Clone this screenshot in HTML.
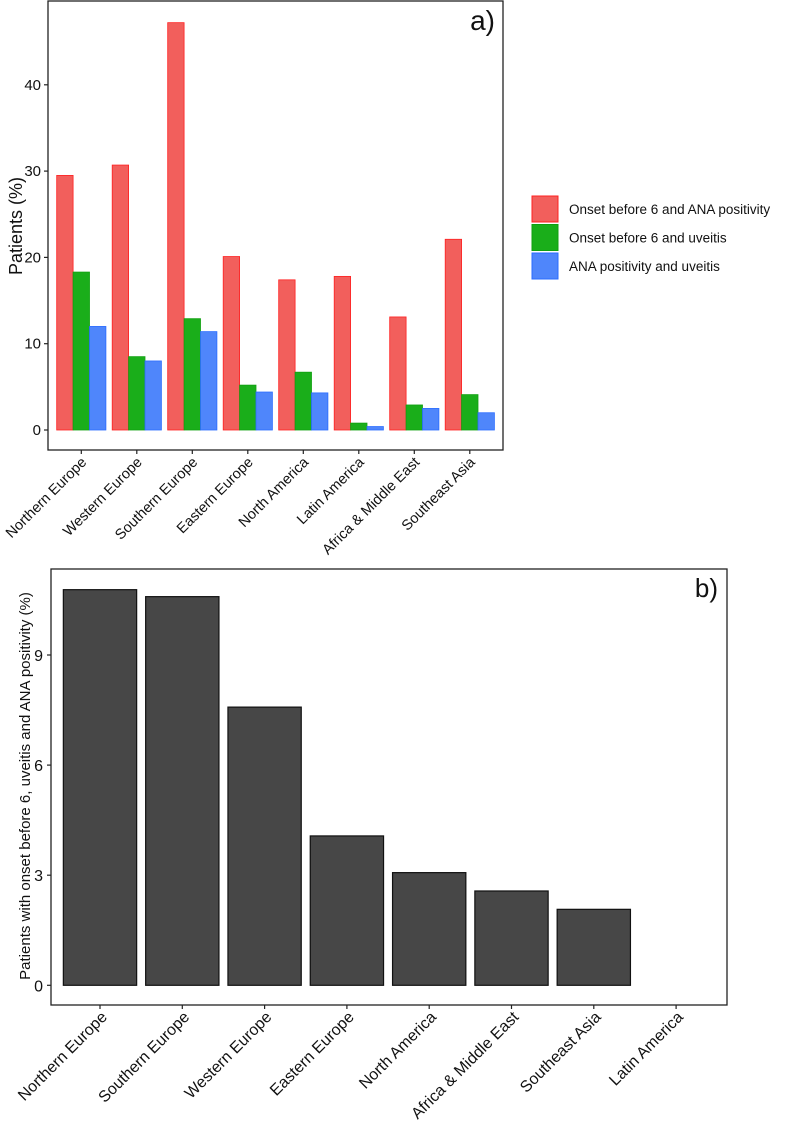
<!DOCTYPE html>
<html><head><meta charset="utf-8"><style>
body{margin:0;background:#fff;overflow:hidden;}
svg{display:block;font-family:"Liberation Sans",sans-serif;}
</style></head><body>
<svg id="chart" width="789" height="1121" viewBox="0 0 789 1121" xmlns="http://www.w3.org/2000/svg"></svg>
<script>
const regionsA = ["Northern Europe","Western Europe","Southern Europe","Eastern Europe","North America","Latin America","Africa & Middle East","Southeast Asia"];
const onsetANA = [29.5,30.7,47.2,20.1,17.4,17.8,13.1,22.1];
const onsetUveitis = [18.3,8.5,12.9,5.2,6.7,0.8,2.9,4.1];
const anaUveitis = [12.0,8.0,11.4,4.4,4.3,0.4,2.5,2.0];
const ticksA = [0,10,20,30,40];
const regionsB = ["Northern Europe","Southern Europe","Western Europe","Eastern Europe","North America","Africa & Middle East","Southeast Asia","Latin America"];
const allThree = [10.78,10.59,7.58,4.07,3.07,2.57,2.07,0];
const ticksB = [0,3,6,9];

const NS="http://www.w3.org/2000/svg";
const svg=document.getElementById('chart');
function mk(tag,attrs,parent){const e=document.createElementNS(NS,tag);for(const k in attrs)e.setAttribute(k,attrs[k]);(parent||svg).appendChild(e);return e;}

// Panel A
const gA=mk('g',{});


const A={l:48,r:503,t:1,b:450,x0:81.3,step:55.5,y0:430,ppu:8.63};
const yA=v=>A.y0-v*A.ppu;
const xA=i=>A.x0+i*A.step;
const frameA=mk('rect',{x:A.l,y:A.t,width:A.r-A.l,height:A.b-A.t,fill:'none',stroke:'#222','stroke-width':1.3},gA);


const series=[[onsetANA,'#f25f5c','#ff2020'],[onsetUveitis,'#1aae1a','#10a010'],[anaUveitis,'#4f86fb','#2a6cff']];
const bw=16.4;
regionsA.forEach((r,i)=>{
  series.forEach((s,j)=>{
    const v=s[0][i];const x=xA(i)-1.5*bw+j*bw;
    const b=mk('rect',{x:x,y:yA(v),width:bw,height:yA(0)-yA(v),fill:s[1],stroke:s[2],'stroke-width':0.8},gA);
    
    
  });
  mk('line',{x1:xA(i),x2:xA(i),y1:A.b,y2:A.b+4,stroke:'#222','stroke-width':1.2},gA);
  const t=mk('text',{x:0,y:0,'font-size':14.5,'text-anchor':'end',fill:'#111',transform:`translate(${xA(i)+6},${A.b+13}) rotate(-45)`},gA);
  t.textContent=r;
  
  
});
ticksA.forEach(v=>{
  mk('line',{x1:A.l-4,x2:A.l,y1:yA(v),y2:yA(v),stroke:'#222','stroke-width':1.2},gA);
  const t=mk('text',{x:A.l-7,y:yA(v)+5,'font-size':15,'text-anchor':'end',fill:'#111'},gA);
  t.textContent=v;
  
  
});
const ytA=mk('text',{x:0,y:0,'font-size':18,'text-anchor':'middle',fill:'#111',transform:'translate(22,226) rotate(-90)'},gA);
ytA.textContent='Patients (%)';


const la=mk('text',{x:495,y:30,'font-size':28,'text-anchor':'end',fill:'#111'},gA);
la.textContent='a)';


const legNames=['Onset before 6 and ANA positivity','Onset before 6 and uveitis','ANA positivity and uveitis'];
legNames.forEach((n,j)=>{
  const y=196+j*28.5;
  const k=mk('rect',{x:532,y:y,width:26,height:26,fill:series[j][1],stroke:series[j][2],'stroke-width':1},gA);
  
  
  const t=mk('text',{x:569,y:y+18,'font-size':13.5,fill:'#111'},gA);
  t.textContent=n;
  
  
});

// Panel B
const gB=mk('g',{});


const B={l:51,r:727,t:569,b:1005,x0:100,step:82.3,y0:985.3,ppu:36.7};
const yB=v=>B.y0-v*B.ppu;
const xB=i=>B.x0+i*B.step;
const frameB=mk('rect',{x:B.l,y:B.t,width:B.r-B.l,height:B.b-B.t,fill:'none',stroke:'#222','stroke-width':1.3},gB);


const bwB=73.3;
regionsB.forEach((r,i)=>{
  const v=allThree[i];
  if(v>0){
    const b=mk('rect',{x:xB(i)-bwB/2,y:yB(v),width:bwB,height:yB(0)-yB(v),fill:'#474747',stroke:'#111','stroke-width':1.2},gB);
    
    
  }
  mk('line',{x1:xB(i),x2:xB(i),y1:B.b,y2:B.b+4,stroke:'#222','stroke-width':1.2},gB);
  const t=mk('text',{x:0,y:0,'font-size':16,'text-anchor':'end',fill:'#111',transform:`translate(${xB(i)+8},${B.b+13}) rotate(-45)`},gB);
  t.textContent=r;
  
  
});
ticksB.forEach(v=>{
  mk('line',{x1:B.l-4,x2:B.l,y1:yB(v),y2:yB(v),stroke:'#222','stroke-width':1.2},gB);
  const t=mk('text',{x:B.l-8,y:yB(v)+6,'font-size':16,'text-anchor':'end',fill:'#111'},gB);
  t.textContent=v;
  
  
});
const ytB=mk('text',{x:0,y:0,'font-size':15,'text-anchor':'middle',fill:'#111',transform:'translate(30,786) rotate(-90)'},gB);
ytB.textContent='Patients with onset before 6, uveitis and ANA positivity (%)';


const lb=mk('text',{x:718,y:597,'font-size':26,'text-anchor':'end',fill:'#111'},gB);
lb.textContent='b)';


</script>
</body></html>
